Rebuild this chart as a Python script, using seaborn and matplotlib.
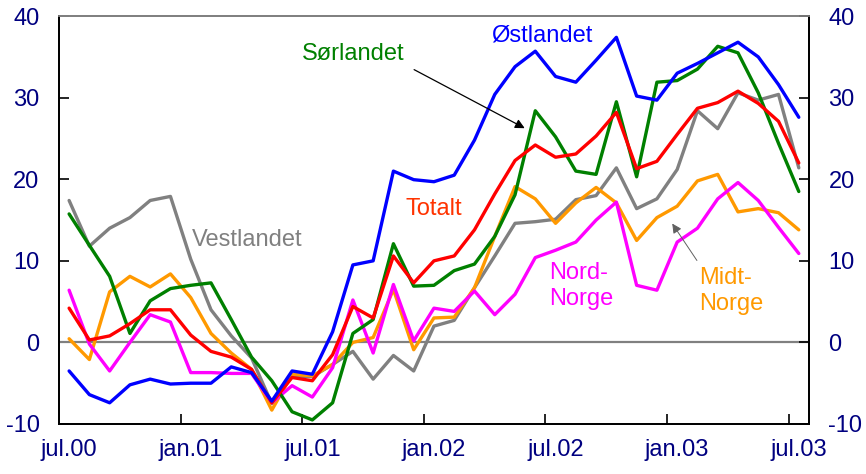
import numpy as np
import pandas as pd
import matplotlib
matplotlib.use("Agg")
import matplotlib.pyplot as plt
import seaborn as sns

months = ["jul.00", "aug.00", "sep.00", "okt.00", "nov.00", "des.00",
          "jan.01", "feb.01", "mar.01", "apr.01", "mai.01", "jun.01",
          "jul.01", "aug.01", "sep.01", "okt.01", "nov.01", "des.01",
          "jan.02", "feb.02", "mar.02", "apr.02", "mai.02", "jun.02",
          "jul.02", "aug.02", "sep.02", "okt.02", "nov.02", "des.02",
          "jan.03", "feb.03", "mar.03", "apr.03", "mai.03", "jun.03",
          "jul.03"]
tick_labels = ["jul.00", "jan.01", "jul.01", "jan.02", "jul.02", "jan.03", "jul.03"]

ostlandet = [-3.5, -6.4, -7.4, -5.2, -4.5, -5.1, -5.0, -5.0, -3.0, -3.7, -7.2, -3.5,
             -3.9, 1.3, 9.5, 10.0, 21.0, 19.95, 19.7, 20.5, 24.8, 30.4, 33.8, 35.7,
             32.6, 31.9, 34.6, 37.4, 30.2, 29.7, 33.0, 34.2, 35.5, 36.8, 35.0, 31.6, 27.6]
sorlandet = [15.75, 11.9, 8.1, 1.1, 5.1, 6.6, 7.0, 7.3, 2.8, -1.8, -4.7, -8.5,
             -9.5, -7.4, 1.1, 2.8, 12.1, 6.9, 7.0, 8.8, 9.6, 13.0, 18.1, 28.4,
             25.2, 21.0, 20.6, 29.5, 20.3, 31.9, 32.1, 33.5, 36.3, 35.5, 30.6, 24.4, 18.5]
totalt = [4.2, 0.3, 0.8, 2.3, 4.0, 4.0, 0.9, -1.1, -1.8, -3.3, -7.4, -4.3,
          -4.7, -1.5, 4.4, 3.0, 10.6, 7.3, 10.0, 10.6, 13.8, 18.2, 22.3, 24.2,
          22.7, 23.1, 25.3, 28.2, 21.3, 22.2, 25.5, 28.7, 29.4, 30.8, 29.3, 27.1, 22.0]
vestlandet = [17.4, 11.8, 14.0, 15.3, 17.4, 17.9, 10.2, 4.0, 0.8, -1.9, -7.5, -4.1,
              -4.2, -2.7, -1.1, -4.5, -1.6, -3.5, 2.0, 2.7, 6.7, 10.6, 14.6, 14.8,
              15.1, 17.5, 18.0, 21.4, 16.4, 17.6, 21.2, 28.4, 26.2, 30.6, 29.7, 30.4, 21.4]
midt_norge = [0.45, -2.1, 6.2, 8.1, 6.8, 8.4, 5.5, 1.1, -1.3, -3.3, -8.3, -3.9,
              -4.1, -2.7, 0.0, 0.6, 6.5, -0.9, 3.0, 3.1, 6.7, 13.0, 19.1, 17.6,
              14.6, 17.1, 19.0, 17.1, 12.5, 15.3, 16.7, 19.8, 20.6, 16.0, 16.4, 15.9, 13.8]
nord_norge = [6.4, -0.2, -3.5, 0.0, 3.4, 2.5, -3.7, -3.7, -3.8, -3.8, -7.4, -5.3,
              -6.7, -3.1, 5.2, -1.3, 7.1, 0.2, 4.2, 3.8, 6.3, 3.4, 5.9, 10.4,
              11.3, 12.3, 15.0, 17.2, 7.0, 6.4, 12.3, 14.0, 17.6, 19.6, 17.4, 14.1, 10.9]

series = {
    "Vestlandet": vestlandet,
    "Midt-Norge": midt_norge,
    "Nord-Norge": nord_norge,
    "Sørlandet": sorlandet,
    "Totalt": totalt,
    "Østlandet": ostlandet,
}
colors = {
    "Østlandet": "#0000FF",
    "Sørlandet": "#008000",
    "Totalt": "#FF0000",
    "Vestlandet": "#808080",
    "Midt-Norge": "#FF9900",
    "Nord-Norge": "#FF00FF",
}

rows = []
for name, vals in series.items():
    for i, v in enumerate(vals):
        rows.append({"idx": i, "month": months[i], "region": name, "value": v})
df = pd.DataFrame(rows)

sns.set_theme(style="white")
plt.rcParams["font.family"] = ["Liberation Sans", "DejaVu Sans"]
plt.rcParams["axes.unicode_minus"] = False

fig = plt.figure(figsize=(8.66, 4.74), dpi=100)
ax = fig.add_axes([0.0681, 0.1055, 0.8660, 0.8605])

ax.axhline(0, color="#808080", lw=1.6, zorder=1)

sns.lineplot(data=df, x="idx", y="value", hue="region", palette=colors,
             hue_order=list(series.keys()), lw=2.4, legend=False, ax=ax,
             zorder=3, estimator=None)

ax.set_xlim(-0.5, 36.5)
ax.set_ylim(-10, 40)
ax.set_xlabel("")
ax.set_ylabel("")

label_color = "#000080"
fs = 17

# x axis: labels at categories, ticks between categories
ax.set_xticks([0, 6, 12, 18, 24, 30, 36])
ax.set_xticklabels(tick_labels)
ax.set_xticks([5.5, 11.5, 17.5, 23.5, 29.5, 35.5], minor=True)
ax.tick_params(axis="x", which="major", length=0, pad=11, labelsize=fs, labelcolor=label_color)
ax.tick_params(axis="x", which="minor", direction="in", length=7, width=1.2, color="black", bottom=True)

ax.set_yticks([-10, 0, 10, 20, 30, 40])
ax.tick_params(axis="y", which="major", direction="in", length=7, width=1.2, color="black",
               pad=14, labelsize=fs, labelcolor=label_color, left=True)

ax2 = ax.twinx()
ax2.set_ylim(-10, 40)
ax2.set_yticks([-10, 0, 10, 20, 30, 40])
ax2.tick_params(axis="y", direction="in", length=7, width=1.2, color="black",
                pad=14, labelsize=fs, labelcolor=label_color, right=True)
ax2.grid(False)
ax.grid(False)

for a in (ax, ax2):
    for side in ("left", "right", "bottom"):
        a.spines[side].set_color("black")
        a.spines[side].set_linewidth(1.3)
    a.spines["top"].set_color("#808080")
    a.spines["top"].set_linewidth(1.3)

# labels
ax.text(23.3, 37.6, "Østlandet", color="#0000FF", fontsize=fs, ha="center", va="center")
ax.text(14.0, 35.3, "Sørlandet", color="#008000", fontsize=fs, ha="center", va="center")
ax.text(18.0, 16.3, "Totalt", color="#FF3300", fontsize=fs, ha="center", va="center")
ax.text(8.8, 12.6, "Vestlandet", color="#808080", fontsize=fs, ha="center", va="center")
ax.text(23.7, 6.9, "Nord-\nNorge", color="#FF00FF", fontsize=fs, ha="left", va="center",
        linespacing=1.22)
ax.text(31.1, 6.3, "Midt-\nNorge", color="#FF9900", fontsize=fs, ha="left", va="center",
        linespacing=1.22)

ax.annotate("", xy=(22.6, 26.1), xytext=(16.9, 33.6),
            arrowprops=dict(arrowstyle="-|>", color="black", lw=0.9, mutation_scale=14), zorder=5)
ax.annotate("", xy=(29.68, 14.85), xytext=(31.05, 9.76),
            arrowprops=dict(arrowstyle="-|>", color="#606060", lw=0.7, mutation_scale=14), zorder=5)

fig.savefig("out.png", dpi=100)
